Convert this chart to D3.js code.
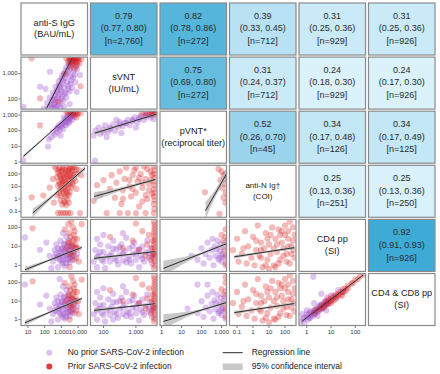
<!DOCTYPE html>
<html>
<head>
<meta charset="utf-8">
<script src="https://cdn.jsdelivr.net/npm/d3@7"></script>
<style>
  body { margin: 0; background: #fff; }
  text { font-family: "Liberation Sans", Arial, sans-serif; fill: #222; }
</style>
</head>
<body>
<svg id="chart" width="440" height="374"></svg>
<script>
// variables (diagonal), log10 axis limits and ticks
var varLabels = [["anti-S IgG", "(BAU/mL)"], ["sVNT", "(IU/mL)"], ["pVNT*", "(reciprocal titer)"],
                 ["anti-N Ig\u2020", "(COI)"], ["CD4 pp", "(SI)"], ["CD4 & CD8 pp", "(SI)"]];
var logLimits = [[0.58, 4.57], [1.6, 3.65], [-0.08, 3.25], [-1.47, 2.69], [-0.32, 2.42], [-0.32, 2.5]];
var xTickValues = [[10, 100, 1000, 10000], [100, 1000], [1, 10, 100, 1000], [0.1, 1, 10, 100], [1, 10, 100], []];
var yTickValues = [[], [100, 1000], [1, 10, 100, 1000], [0.1, 1, 10, 100], [1, 10, 100], [1, 10, 100]];

// upper triangle: correlation (row, col), r, 95% CI, n
var corrCells = [[0,1],[0,2],[0,3],[0,4],[0,5],[1,2],[1,3],[1,4],[1,5],[2,3],[2,4],[2,5],[3,4],[3,5],[4,5]];
var corrR  = [0.79, 0.82, 0.39, 0.31, 0.31, 0.75, 0.31, 0.24, 0.24, 0.52, 0.34, 0.34, 0.25, 0.25, 0.92];
var corrLo = [0.77, 0.78, 0.33, 0.25, 0.25, 0.69, 0.24, 0.18, 0.17, 0.26, 0.17, 0.17, 0.13, 0.13, 0.91];
var corrHi = [0.80, 0.86, 0.45, 0.36, 0.36, 0.80, 0.37, 0.30, 0.30, 0.70, 0.48, 0.49, 0.36, 0.36, 0.93];
var corrN  = [2760, 272, 712, 929, 926, 272, 712, 929, 926, 45, 126, 125, 251, 250, 926];

// lower triangle points, [log10 x, log10 y]
var sVNT_antiS_noPrior = [[1.95,1.62],[2.2,1.66],[2.45,1.64],[2.7,1.68],[2.95,1.66],[3.15,1.7],[2.15,1.85],[2.4,1.82],[2.65,1.88],[2.9,1.86],[3.1,1.92],
  [2.3,2.05],[2.55,2.02],[2.8,2.08],[3.05,2.1],[3.3,2.05],[2.5,2.25],[2.75,2.28],[3.0,2.3],[3.25,2.25],[3.5,2.3],[2.65,2.48],[2.9,2.5],[3.15,2.46],
  [3.4,2.52],[3.65,2.45],[2.85,2.7],[3.1,2.72],[3.35,2.68],[3.6,2.74],[3.85,2.66],[3.05,2.92],[3.3,2.95],[3.55,2.9],[3.8,2.96],[3.25,3.12],[3.5,3.15],
  [3.75,3.1],[3.95,3.18],[3.45,3.35],[3.7,3.38],[3.9,3.32],[3.6,3.5],[3.85,3.55],[0.72,1.69],[1.72,2.48],[2.32,3.07],[4.12,2.94],[3.92,2.28],[2.05,2.4],[3.5,1.8],
  [2.35,1.75],[2.55,1.78],[2.45,1.95],[2.65,1.98],[2.6,2.15],[2.85,2.18],[2.75,2.35],[2.95,2.38],[2.85,2.55],[3.05,2.6],[3.0,2.8],[3.2,2.82],[3.15,3.0],
  [3.4,3.05],[3.3,3.25],[3.55,3.28],[3.5,3.45],[3.7,3.48],[2.6,1.65],[2.8,1.75],[3.0,2.0],[3.2,2.2],[3.4,2.4],[3.55,2.6],[3.7,2.85]];
var sVNT_antiS_prior = [[3.3,3.6],[3.45,3.62],[3.6,3.6],[3.75,3.62],[3.9,3.6],[4.05,3.62],[4.2,3.58],[3.5,3.5],[3.7,3.48],[3.85,3.45],[4.0,3.5],[3.65,3.35],
  [3.9,3.3],[3.8,3.2],[4.1,3.4],[3.4,3.45],[3.55,3.25],[1.22,3.6],[1.72,2.02],[2.8,1.9],[4.15,2.5],[3.2,3.0],[3.55,3.6],[3.7,3.6],[3.85,3.6],[4.0,3.58],
  [3.6,3.45],[3.8,3.52],[3.95,3.42]];
var pVNT_antiS_noPrior = [[2.4,1.6],[2.6,1.75],[2.5,1.95],[2.75,1.9],[2.9,2.05],[2.7,2.15],[3.0,2.25],[3.1,2.1],[2.85,2.35],[3.2,2.4],[3.3,2.55],[3.05,2.5],
  [3.4,2.7],[3.5,2.6],[3.25,2.75],[3.55,2.85],[3.6,2.95],[3.4,2.95],[3.7,3.05],[3.75,2.9],[3.5,3.1],[3.85,3.1],[2.25,1.45],[2.95,1.7],[2.2,0.99],
  [0.72,0.08],[3.15,2.85],[3.65,2.7],[3.0,2.4],[3.2,2.6],[3.35,2.85],[3.5,2.8],[3.6,3.05],[2.8,2.2],[3.3,2.35],[3.45,2.5]];
var pVNT_antiS_prior = [[3.4,3.15],[3.55,3.18],[3.7,3.15],[3.85,3.18],[4.0,3.15],[4.15,3.1],[3.6,3.05],[3.8,3.0],[3.95,3.05],[1.72,2.34],[3.9,2.85],[3.3,3.2]];
var pVNT_sVNT_noPrior = [[1.7,1.7],[1.75,2.0],[1.85,2.2],[1.9,1.8],[2.0,2.05],[2.05,2.35],[2.15,1.95],[2.2,2.2],[2.3,2.4],[2.35,2.0],[2.45,2.25],[2.5,2.55],
  [2.6,2.3],[2.65,2.5],[2.75,2.7],[2.8,2.35],[2.9,2.6],[2.95,2.85],[3.05,2.55],[3.1,2.75],[3.15,2.95],[3.25,2.7],[3.3,2.9],[3.35,3.05],[3.45,2.85],
  [3.5,3.0],[3.55,2.75],[3.6,3.1],[2.4,2.7],[2.1,1.6],[1.74,0.08],[3.0,2.2],[2.55,1.85],[2.5,2.4],[2.7,2.5],[2.9,2.7],[3.1,2.85],[3.3,3.0],[3.5,3.1],
  [2.2,2.1],[2.0,1.9]];
var pVNT_sVNT_prior = [[3.3,3.15],[3.45,3.2],[3.55,3.15],[3.6,3.2],[3.5,3.08],[3.62,3.05],[3.2,3.1],[3.4,3.0]];
var antiN_antiS_prior = [[2.7,2.4],[2.9,2.5],[3.1,2.45],[3.3,2.5],[3.5,2.4],[3.7,2.5],[3.9,2.35],[2.8,2.1],[3.0,2.2],[3.2,2.05],[3.4,2.2],[3.6,2.1],[3.8,2.0],
  [4.05,2.3],[2.75,1.75],[2.95,1.8],[3.15,1.7],[3.35,1.85],[3.55,1.75],[3.75,1.65],[2.85,1.4],[3.05,1.45],[3.25,1.35],[3.45,1.5],[3.65,1.3],[3.85,1.45],
  [2.8,1.05],[3.0,1.1],[3.2,0.95],[3.4,1.1],[3.6,0.9],[3.1,0.7],[2.9,0.65],[3.3,0.6],[3.5,0.55],[2.75,0.3],[3.0,0.25],[3.25,0.2],[3.45,0.3],
  [2.95,-0.1],[3.15,-0.2],[3.35,-0.05],[3.05,-0.45],[3.3,-0.5],[2.8,-1.13],[2.95,-1.13],[3.1,-1.13],[3.25,-1.13],[3.4,-1.13],[3.55,-1.13],[4.12,-1.13],
  [1.22,0.13],[1.92,0.27],[2.3,0.9],[2.5,1.6],[2.55,-0.3],[3.9,0.8],[4.2,1.9],[2.6,2.6],
  [2.85,2.3],[3.05,2.35],[3.25,2.3],[3.45,2.35],[3.65,2.3],[2.9,1.95],[3.1,1.9],[3.3,2.0],[3.5,1.95],[3.7,1.9],[3.0,1.6],[3.2,1.55],[3.4,1.65],[3.6,1.55],
  [2.9,1.2],[3.1,1.25],[3.3,1.2],[3.5,1.25],[3.7,1.15],[3.0,0.85],[3.2,0.75],[3.4,0.85],[3.15,0.4],[3.35,0.4],[2.85,0.45],[3.2,-0.3],[3.45,-0.3],
  [3.6,2.55],[3.8,2.55],[3.95,2.0]];
var antiN_sVNT_prior = [[1.7,-0.15],[1.9,0.3],[1.8,1.1],[2.0,1.5],[2.1,-1.13],[2.2,0.8],[2.25,1.9],[2.35,0.1],[2.4,1.3],[2.5,2.2],[2.55,-0.4],[2.6,0.7],
  [2.65,1.6],[2.7,2.5],[2.75,-1.13],[2.8,1.0],[2.85,0.2],[2.9,1.9],[2.95,2.3],[3.0,0.5],[3.05,1.4],[3.1,-0.6],[3.15,2.0],[3.2,0.9],[3.25,2.6],[3.3,1.6],
  [3.35,0.0],[3.4,1.2],[3.45,2.2],[3.3,-1.13],[3.0,-1.13],[2.5,-1.13],[3.55,2.6],[3.57,2.3],[3.55,2.0],[3.57,1.7],[3.55,1.4],[3.57,1.1],[3.55,0.8],
  [3.57,0.5],[3.55,0.2],[3.57,-0.1],[3.55,-0.4],[3.57,-0.8],[3.55,-1.13],[3.5,1.9],[3.5,0.4],
  [3.3,0.3],[3.2,1.3],[3.4,0.7],[3.1,1.7],[2.9,0.8],[3.45,1.5],[3.0,2.5],[2.8,1.5],[3.35,2.4],[2.6,0.0],[3.2,-0.2]];
var antiN_pVNT_prior = [[2.85,2.4],[3.0,2.2],[3.1,1.9],[3.2,1.6],[3.15,1.2],[3.05,0.9],[3.2,0.5],[3.1,0.1],[3.2,-0.3],[2.95,1.5],[2.17,0.53],[2.9,-1.2],[3.2,2.0]];
var CD4_antiS_noPrior = [[2.3,0.5],[2.5,0.2],[2.6,0.8],[2.7,1.1],[2.75,0.4],[2.8,-0.1],[2.9,0.7],[2.95,1.3],[3.0,0.2],[3.05,0.9],[3.1,0.5],[3.15,1.1],
  [3.2,-0.05],[3.25,0.7],[3.3,0.35],[3.35,1.0],[3.4,0.6],[3.45,1.3],[3.5,0.15],[3.55,0.8],[3.6,0.45],[3.65,1.05],[3.7,0.7],[3.8,0.3],[3.85,0.95],
  [2.85,0.5],[3.0,0.6],[3.2,0.8],[3.4,0.3],[2.6,0.45],[3.3,1.5],[0.82,1.47],[1.72,0.82],[2.1,1.2],[3.95,0.6],[2.4,-0.15],[3.1,1.7],
  [2.9,0.3],[3.1,0.3],[3.3,0.55],[3.5,0.4],[3.0,0.85],[3.2,1.15],[3.4,0.85],[3.6,0.75],[2.8,0.9],[3.3,0.1],[3.1,0.1],[2.7,0.6],[3.5,1.0],[3.7,0.5]];
var CD4_antiS_prior = [[3.3,0.9],[3.4,1.2],[3.5,0.6],[3.55,1.5],[3.6,1.0],[3.65,0.3],[3.7,1.3],[3.75,0.7],[3.8,1.8],[3.85,1.1],[3.9,0.4],[3.95,1.4],
  [4.0,0.9],[3.45,1.7],[3.7,2.0],[3.6,2.3],[3.42,2.17],[4.22,2.17],[1.28,1.95],[3.2,1.9],[4.05,0.2],[3.5,-0.1],
  [3.5,1.2],[3.7,1.0],[3.8,1.4],[3.6,0.6],[3.9,0.9],[3.75,1.6]];
var CD4_sVNT_noPrior = [[1.7,0.2],[1.75,0.8],[1.8,-0.1],[1.85,0.5],[1.9,1.1],[1.95,0.3],[2.0,0.7],[2.05,-0.15],[2.1,0.45],[2.15,1.0],[2.2,0.2],[2.25,0.65],
  [2.3,1.3],[2.35,0.35],[2.4,0.85],[2.45,0.05],[2.5,0.55],[2.55,1.1],[2.6,0.25],[2.65,0.75],[2.7,1.45],[2.75,0.4],[2.8,0.9],[2.85,0.1],[2.9,0.6],
  [2.95,1.2],[3.0,0.3],[3.05,0.8],[3.1,-0.1],[3.15,0.5],[3.2,1.0],[3.25,0.2],[3.3,0.7],[3.35,1.3],[3.4,0.4],[3.45,0.9],[3.5,0.1],[3.55,0.6],
  [2.0,1.6],[2.6,1.7],[1.8,1.4],
  [1.8,0.45],[2.0,0.2],[2.2,0.5],[2.4,0.25],[2.6,0.6],[2.8,0.3],[3.0,0.6],[3.2,0.35],[3.4,0.65],[1.9,0.7],[2.3,0.9],[2.7,0.15],[3.1,0.85],[3.5,0.45],
  [2.5,0.95],[2.9,1.0]];
var CD4_sVNT_prior = [[3.56,-0.15],[3.58,0.2],[3.56,0.5],[3.58,0.8],[3.56,1.1],[3.58,1.4],[3.56,1.7],[3.58,2.0],[3.56,2.3],[3.5,0.9],[3.4,1.6],[3.3,0.5],
  [3.2,1.8],[3.1,0.8],[3.0,2.2],[2.9,1.3],[2.6,0.9],[2.2,1.5],[3.45,0.3],[3.35,1.1],
  [3.57,0.0],[3.57,0.35],[3.57,0.65],[3.57,0.95],[3.57,1.25],[3.57,1.55],[3.57,1.85],[3.57,2.15],[3.52,0.6],[3.52,1.3]];
var CD4_pVNT_noPrior = [[1.8,0.3],[2.0,0.9],[2.1,0.1],[2.2,0.6],[2.3,1.2],[2.4,0.4],[2.5,0.8],[2.6,0.0],[2.65,1.0],[2.7,0.5],[2.8,1.3],[2.85,0.3],[2.9,0.75],
  [2.95,1.1],[3.0,0.2],[3.05,0.6],[3.1,0.95],[3.15,0.4],[3.2,1.2],[2.55,1.4],[1.5,0.5],[3.2,0.0],[2.75,0.85],[3.0,0.5],[2.9,0.4]];
var CD4_pVNT_prior = [[3.15,0.8],[3.2,1.5],[3.22,0.5],[3.2,1.9],[3.1,1.3],[3.0,1.6],[3.22,0.1]];
var CD4_antiN_prior = [[-1.25,0.8],[-1.0,1.4],[-0.9,0.2],[-0.7,0.6],[-0.5,1.8],[-0.4,0.1],[-0.3,1.0],[-0.1,0.4],[0.0,1.5],[0.1,0.0],[0.2,0.8],[0.3,2.1],
  [0.4,0.5],[0.5,1.2],[0.6,-0.1],[0.7,0.9],[0.8,1.7],[0.9,0.3],[1.0,1.1],[1.1,0.6],[1.2,2.0],[1.3,0.0],[1.4,1.4],[1.5,0.7],[1.6,1.9],[1.7,0.3],[1.8,1.2],
  [1.9,0.9],[2.0,1.6],[2.1,0.2],[2.2,1.0],[2.3,2.3],[2.4,0.6],[2.5,1.3],[2.6,0.4],[1.0,-0.2],[0.5,0.4],[2.2,1.8],[1.6,0.1],[2.5,2.0],
  [0.5,0.8],[0.9,1.4],[1.3,0.9],[1.7,1.6],[2.1,0.6],[2.4,1.0],[1.9,0.5],[1.5,1.1],[1.1,1.6],[2.6,1.6],[2.0,2.1],[0.2,1.3],[-0.6,0.9],[2.3,0.1],
  [1.4,-0.1],[0.8,0.0],[2.55,0.8],[1.8,1.8],[2.2,1.4]];
var CD48_antiS_noPrior = [[2.3,0.6],[2.5,0.3],[2.6,0.9],[2.7,1.2],[2.75,0.45],[2.8,0.0],[2.9,0.75],[2.95,1.35],[3.0,0.25],[3.05,1.0],[3.1,0.55],[3.15,1.2],
  [3.2,0.05],[3.25,0.8],[3.3,0.4],[3.35,1.1],[3.4,0.65],[3.45,1.4],[3.5,0.2],[3.55,0.9],[3.6,0.5],[3.65,1.15],[3.7,0.8],[3.8,0.35],[3.85,1.05],
  [2.85,0.6],[3.0,0.7],[3.2,0.9],[3.4,0.35],[2.6,0.5],[3.3,1.6],[0.82,1.9],[1.72,0.82],[2.1,1.3],[3.95,0.7],[2.4,-0.1],[3.1,1.8],[2.9,2.2],
  [2.9,0.35],[3.1,0.35],[3.3,0.6],[3.5,0.45],[3.0,0.95],[3.2,1.25],[3.4,0.9],[3.6,0.8],[2.8,1.0],[3.3,0.15],[3.1,0.15],[2.7,0.7],[3.5,1.1],[3.7,0.55]];
var CD48_antiS_prior = [[3.3,1.0],[3.4,1.3],[3.5,0.7],[3.55,1.6],[3.6,1.1],[3.65,0.4],[3.7,1.4],[3.75,0.8],[3.8,1.9],[3.85,1.2],[3.9,0.5],[3.95,1.5],
  [4.0,1.0],[3.45,1.8],[3.7,2.1],[3.6,2.35],[4.22,2.17],[1.28,2.08],[3.2,2.0],[4.05,0.3],[3.5,0.0],
  [3.5,1.3],[3.7,1.1],[3.8,1.5],[3.6,0.7],[3.9,1.0],[3.75,1.7]];
var CD48_sVNT_noPrior = [[1.7,0.3],[1.75,0.9],[1.8,0.0],[1.85,0.6],[1.9,1.2],[1.95,0.35],[2.0,0.8],[2.05,-0.1],[2.1,0.5],[2.15,1.1],[2.2,0.25],[2.25,0.7],
  [2.3,1.4],[2.35,0.4],[2.4,0.95],[2.45,0.1],[2.5,0.6],[2.55,1.2],[2.6,0.3],[2.65,0.8],[2.7,1.5],[2.75,0.45],[2.8,1.0],[2.85,0.15],[2.9,0.65],
  [2.95,1.3],[3.0,0.35],[3.05,0.85],[3.1,-0.05],[3.15,0.55],[3.2,1.1],[3.25,0.25],[3.3,0.75],[3.35,1.35],[3.4,0.45],[3.45,0.95],[3.5,0.15],[3.55,0.65],
  [2.0,1.7],[2.6,1.8],[1.8,1.5],[2.3,0.0],
  [1.8,0.5],[2.0,0.25],[2.2,0.55],[2.4,0.3],[2.6,0.65],[2.8,0.35],[3.0,0.65],[3.2,0.4],[3.4,0.7],[1.9,0.75],[2.3,0.95],[2.7,0.2],[3.1,0.9],[3.5,0.5],
  [2.5,1.0],[2.9,1.05]];
var CD48_sVNT_prior = [[3.56,-0.1],[3.58,0.25],[3.56,0.55],[3.58,0.85],[3.56,1.15],[3.58,1.45],[3.56,1.75],[3.58,2.05],[3.56,2.35],[3.5,1.0],[3.4,1.7],
  [3.3,0.6],[3.2,1.9],[3.1,0.9],[3.0,2.25],[2.9,1.35],[2.6,1.0],[2.2,1.6],[3.45,0.35],[3.35,1.15],
  [3.57,0.05],[3.57,0.4],[3.57,0.7],[3.57,1.0],[3.57,1.3],[3.57,1.6],[3.57,1.9],[3.57,2.2],[3.52,0.65],[3.52,1.35]];
var CD48_pVNT_noPrior = [[1.8,0.35],[2.0,1.0],[2.1,0.15],[2.2,0.65],[2.3,1.3],[2.4,0.45],[2.5,0.85],[2.6,0.05],[2.65,1.05],[2.7,0.55],[2.8,1.35],[2.85,0.35],
  [2.9,0.8],[2.95,1.15],[3.0,0.25],[3.05,0.65],[3.1,1.0],[3.15,0.45],[3.2,1.25],[2.55,1.5],[1.3,0.6],[3.2,0.05],[2.3,1.9],[1.8,1.9],[2.75,0.9],[3.0,0.55],
  [2.9,0.45]];
var CD48_pVNT_prior = [[3.15,0.85],[3.2,1.55],[3.22,0.55],[3.2,2.0],[3.1,1.35],[3.0,1.65],[3.22,0.15],[3.2,2.3]];
var CD48_antiN_prior = [[-1.25,0.9],[-1.0,1.5],[-0.9,0.3],[-0.7,0.7],[-0.5,1.9],[-0.4,0.2],[-0.3,1.1],[-0.1,0.5],[0.0,1.6],[0.1,0.05],[0.2,0.9],[0.3,2.2],
  [0.4,0.55],[0.5,1.3],[0.6,-0.05],[0.7,1.0],[0.8,1.8],[0.9,0.35],[1.0,1.2],[1.1,0.65],[1.2,2.1],[1.3,0.05],[1.4,1.5],[1.5,0.75],[1.6,2.0],[1.7,0.35],
  [1.8,1.3],[1.9,1.0],[2.0,1.7],[2.1,0.25],[2.2,1.1],[2.3,2.4],[2.4,0.65],[2.5,1.4],[2.6,0.45],[1.0,-0.15],[0.5,0.45],[2.2,1.9],[1.6,0.15],[2.5,2.1],
  [0.5,0.9],[0.9,1.5],[1.3,1.0],[1.7,1.7],[2.1,0.7],[2.4,1.1],[1.9,0.6],[1.5,1.2],[1.1,1.7],[2.6,1.7],[2.0,2.2],[0.2,1.4],[-0.6,1.0],[2.3,0.2],
  [1.4,0.0],[0.8,0.1],[2.55,0.9],[1.8,1.9],[2.2,1.5]];
var CD48_CD4_noPrior = [[-0.25,-0.1],[-0.15,0.05],[-0.1,-0.2],[0.0,0.15],[0.05,0.0],[0.1,0.3],[0.15,0.1],[0.2,0.4],[0.25,0.2],[0.3,0.5],[0.35,0.3],[0.4,0.6],
  [0.45,0.4],[0.5,0.7],[0.55,0.55],[0.6,0.8],[0.65,0.6],[0.7,0.9],[0.75,0.75],[0.8,1.0],[0.85,0.85],[0.9,1.1],[1.0,1.05],[1.1,1.3],[1.2,1.2],[0.0,0.5],
  [0.3,0.9],[0.27,2.33],[0.6,1.4],[1.3,1.6],[-0.2,0.3],[0.8,0.5],[1.5,1.5],
  [0.0,0.3],[0.1,0.1],[0.2,0.25],[0.3,0.35],[0.4,0.45],[0.5,0.5],[0.6,0.65],[0.7,0.7],[0.8,0.85],[0.9,0.95],[0.35,0.55],[0.55,0.8],[0.75,1.0],
  [-0.1,0.1],[0.15,0.45],[1.0,1.3],[0.45,0.2]];
var CD48_CD4_prior = [[0.3,0.35],[0.5,0.6],[0.6,0.75],[0.7,0.8],[0.8,0.95],[0.9,1.0],[1.0,1.15],[1.1,1.2],[1.2,1.35],[1.3,1.4],[1.4,1.5],[1.5,1.65],[1.6,1.7],
  [1.7,1.85],[1.85,1.95],[2.0,2.15],[2.2,2.35],[2.35,2.45],[1.0,0.9],[1.2,1.1],[0.85,1.2],[1.45,1.3],
  [0.4,0.5],[0.6,0.6],[0.8,0.8],[1.0,1.0],[1.1,1.05],[1.3,1.3],[1.5,1.5],[1.7,1.7],[0.9,0.85],[1.2,1.25],[1.4,1.35],[1.6,1.55],[0.7,0.65],[1.9,2.0],[2.1,2.2]];

// regression line end points [x1, y1, x2, y2] and CI half-widths [at x1, middle, at x2], log10 units
var fitLines = [[2.12,1.63,3.68,3.66],[0.72,0.35,3.72,3.2],[1.74,1.85,3.64,3.07],[1.28,-1.13,4.42,2.45],[1.71,0.19,3.59,1.55],[2.2,-0.93,3.25,2.0],
  [0.82,-0.23,4.22,0.94],[1.71,0.37,3.59,0.72],[0.09,-0.16,3.42,1.21],[-1.17,0.45,2.58,0.93],
  [0.82,-0.17,4.22,1.14],[1.71,0.5,3.59,0.86],[0.09,-0.1,3.42,0.98],[-1.17,0.38,2.58,0.87],[-0.21,-0.1,2.33,2.42]];
var fitCI = [[0.05,0.02,0.04],[0.12,0.03,0.05],[0.12,0.04,0.06],[0.35,0.1,0.2],[0.35,0.12,0.12],[0.7,0.3,0.5],
  [0.15,0.04,0.08],[0.1,0.04,0.06],[0.4,0.08,0.1],[0.1,0.05,0.1],
  [0.15,0.04,0.08],[0.1,0.04,0.06],[0.4,0.08,0.1],[0.1,0.05,0.1],[0.03,0.01,0.02]];

var lowerCells = [[1,0],[2,0],[2,1],[3,0],[3,1],[3,2],[4,0],[4,1],[4,2],[4,3],[5,0],[5,1],[5,2],[5,3],[5,4]];
var lowerNoPrior = [sVNT_antiS_noPrior, pVNT_antiS_noPrior, pVNT_sVNT_noPrior, [], [], [],
  CD4_antiS_noPrior, CD4_sVNT_noPrior, CD4_pVNT_noPrior, [], CD48_antiS_noPrior, CD48_sVNT_noPrior, CD48_pVNT_noPrior, [], CD48_CD4_noPrior];
var lowerPrior = [sVNT_antiS_prior, pVNT_antiS_prior, pVNT_sVNT_prior, antiN_antiS_prior, antiN_sVNT_prior, antiN_pVNT_prior,
  CD4_antiS_prior, CD4_sVNT_prior, CD4_pVNT_prior, CD4_antiN_prior, CD48_antiS_prior, CD48_sVNT_prior, CD48_pVNT_prior, CD48_antiN_prior, CD48_CD4_prior];

var PURPLE = "#9b4dca", RED = "#d7191c";

var svg = d3.select("#chart");

// grid of panels
var colBand = d3.scaleBand().domain(d3.range(6)).range([21, 435]).paddingInner(0.043).paddingOuter(0);
var rowBand = d3.scaleBand().domain(d3.range(6)).range([3, 325.5]).paddingInner(0.039).paddingOuter(0);
var bw = colBand.bandwidth(), bh = rowBand.bandwidth();

var corrColor = d3.scaleLinear().domain([0.2, 0.92]).range(["#e4f6fd", "#3eaad6"]).clamp(true);
var fmt2 = d3.format(".2f"), fmtN = d3.format(",");

function xScale(c) { return d3.scaleLinear().domain(logLimits[c]).range([colBand(c), colBand(c) + bw]); }
function yScale(r) { return d3.scaleLinear().domain(logLimits[r]).range([rowBand(r) + bh, rowBand(r)]); }

// upper triangle boxes
corrCells.forEach(function (rc, i) {
  var r = rc[0], c = rc[1];
  var cx = colBand(c) + bw / 2, cy = rowBand(r) + bh / 2;
  svg.append("rect").attr("x", colBand(c)).attr("y", rowBand(r)).attr("width", bw).attr("height", bh)
    .attr("fill", corrColor(corrR[i])).attr("stroke", "#8a8a8a").attr("stroke-width", 1.2);
  var lines = [fmt2(corrR[i]), "(" + fmt2(corrLo[i]) + ", " + fmt2(corrHi[i]) + ")", "[n=" + fmtN(corrN[i]) + "]"];
  lines.forEach(function (t, k) {
    svg.append("text").attr("x", cx).attr("y", cy + (k - 1) * 12.8)
      .attr("text-anchor", "middle").attr("dominant-baseline", "middle")
      .style("font-size", "9px").style("fill", "#2a2a2a").text(t);
  });
});

// diagonal labels
varLabels.forEach(function (lab, i) {
  var cx = colBand(i) + bw / 2, cy = rowBand(i) + bh / 2;
  svg.append("rect").attr("x", colBand(i)).attr("y", rowBand(i)).attr("width", bw).attr("height", bh)
    .attr("fill", "#fff").attr("stroke", "#8a8a8a").attr("stroke-width", 1.2);
  var fs = (i === 3) ? 8 : 9.2;
  lab.forEach(function (t, k) {
    svg.append("text").attr("x", cx).attr("y", cy + (k === 0 ? -5.8 : 6))
      .attr("text-anchor", "middle").attr("dominant-baseline", "middle")
      .style("font-size", fs + "px").style("fill", "#222").text(t);
  });
});

// lower triangle scatter panels
var area = d3.area().curve(d3.curveMonotoneX);
lowerCells.forEach(function (rc, i) {
  var r = rc[0], c = rc[1];
  var x = xScale(c), y = yScale(r);
  var clipId = "clip" + i;
  svg.append("clipPath").attr("id", clipId).append("rect")
    .attr("x", colBand(c)).attr("y", rowBand(r)).attr("width", bw).attr("height", bh);
  svg.append("rect").attr("x", colBand(c)).attr("y", rowBand(r)).attr("width", bw).attr("height", bh)
    .attr("fill", "#fff");
  var g = svg.append("g").attr("clip-path", "url(#" + clipId + ")");

  g.selectAll("circle.np").data(lowerNoPrior[i]).enter().append("circle")
    .attr("cx", function (d) { return x(d[0]); }).attr("cy", function (d) { return y(d[1]); })
    .attr("r", 3.1).attr("fill", PURPLE).attr("fill-opacity", 0.33);
  g.selectAll("circle.p").data(lowerPrior[i]).enter().append("circle")
    .attr("cx", function (d) { return x(d[0]); }).attr("cy", function (d) { return y(d[1]); })
    .attr("r", 3.1).attr("fill", RED).attr("fill-opacity", 0.3);

  var f = fitLines[i], w = fitCI[i];
  var slope = (f[3] - f[1]) / (f[2] - f[0]);
  var xm = (f[0] + f[2]) / 2;
  var band = [[f[0], w[0]], [xm, w[1]], [f[2], w[2]]].map(function (p) {
    var yy = f[1] + slope * (p[0] - f[0]);
    return [x(p[0]), y(yy + p[1]), y(yy - p[1])];
  });
  g.append("path").datum(band)
    .attr("d", area.x(function (d) { return d[0]; }).y0(function (d) { return d[1]; }).y1(function (d) { return d[2]; }))
    .attr("fill", "#b5b5b5").attr("fill-opacity", 0.75);
  g.append("line").attr("x1", x(f[0])).attr("y1", y(f[1])).attr("x2", x(f[2])).attr("y2", y(f[3]))
    .attr("stroke", "#2b2b2b").attr("stroke-width", 1);

  svg.append("rect").attr("x", colBand(c)).attr("y", rowBand(r)).attr("width", bw).attr("height", bh)
    .attr("fill", "none").attr("stroke", "#8a8a8a").attr("stroke-width", 1.2);
});

// axes: left column y ticks, bottom row x ticks
yTickValues.forEach(function (ticks, r) {
  var y = yScale(r);
  ticks.forEach(function (t) {
    var py = y(Math.log10(t));
    svg.append("line").attr("x1", 18.5).attr("x2", 20.5).attr("y1", py).attr("y2", py).attr("stroke", "#555").attr("stroke-width", 0.8);
    svg.append("text").attr("x", 17.5).attr("y", py).attr("text-anchor", "end").attr("dominant-baseline", "middle")
      .style("font-size", "6px").style("fill", "#333").text(fmtN(t));
  });
});
xTickValues.forEach(function (ticks, c) {
  var x = xScale(c);
  var base = rowBand(5) + bh;
  ticks.forEach(function (t) {
    var px = x(Math.log10(t));
    svg.append("line").attr("x1", px).attr("x2", px).attr("y1", base + 0.5).attr("y2", base + 2.5).attr("stroke", "#555").attr("stroke-width", 0.8);
    svg.append("text").attr("x", px).attr("y", base + 6.5).attr("text-anchor", "middle").attr("dominant-baseline", "middle")
      .style("font-size", "6px").style("fill", "#333").text(fmtN(t));
  });
});

// legend
var legend = svg.append("g");
legend.append("circle").attr("cx", 49.3).attr("cy", 352.7).attr("r", 3).attr("fill", PURPLE).attr("fill-opacity", 0.35);
legend.append("circle").attr("cx", 49.3).attr("cy", 366.5).attr("r", 3).attr("fill", RED).attr("fill-opacity", 0.85);
legend.append("text").attr("x", 67.7).attr("y", 352.7).attr("dominant-baseline", "middle").style("font-size", "8.5px").text("No prior SARS-CoV-2 infection");
legend.append("text").attr("x", 67.7).attr("y", 366.5).attr("dominant-baseline", "middle").style("font-size", "8.5px").text("Prior SARS-CoV-2 infection");
legend.append("line").attr("x1", 222.7).attr("x2", 242.7).attr("y1", 352.7).attr("y2", 352.7).attr("stroke", "#2b2b2b").attr("stroke-width", 1);
legend.append("rect").attr("x", 222.7).attr("y", 363.5).attr("width", 20).attr("height", 6.5).attr("fill", "#c8c8c8");
legend.append("text").attr("x", 251.7).attr("y", 352.7).attr("dominant-baseline", "middle").style("font-size", "8.5px").text("Regression line");
legend.append("text").attr("x", 251.7).attr("y", 366.5).attr("dominant-baseline", "middle").style("font-size", "8.5px").text("95% confidence interval");
</script>
</body>
</html>
